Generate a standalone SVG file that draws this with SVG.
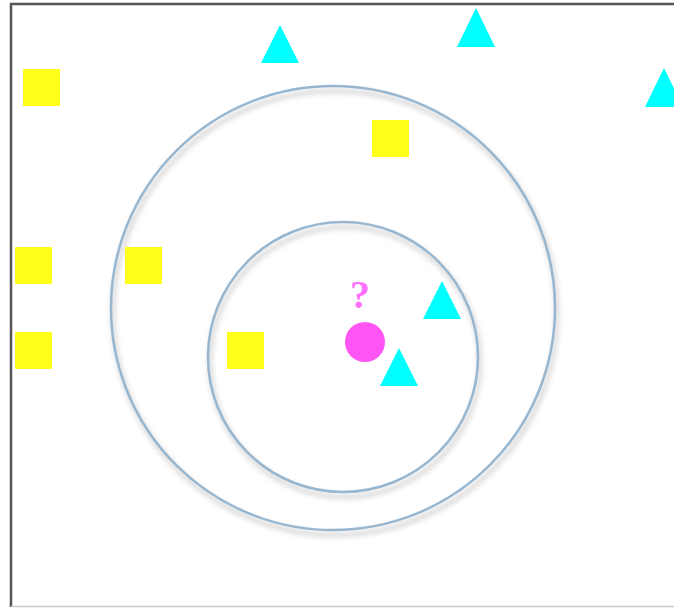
<svg xmlns="http://www.w3.org/2000/svg" width="674" height="608" viewBox="0 0 674 608">
<style>
.sq{fill:#ffff1a}
.tri{fill:#00ffff}
.ring{fill:none;stroke:#97b6d0;stroke-width:2.5}
.shadow{fill:none;stroke:#000;stroke-opacity:0.14;stroke-width:5}
</style>
<defs>
<filter id="blur" x="-10%" y="-10%" width="120%" height="120%"><feGaussianBlur stdDeviation="2.5"/></filter>
</defs>
<rect x="0" y="0" width="674" height="608" fill="#fff"/>
<path d="M11 607 V4 H680" fill="none" stroke="#555" stroke-width="2.5"/>
<line x1="11" y1="606.5" x2="674" y2="606.5" stroke="#ccc" stroke-width="1.5"/>
<g id="rings">
<circle class="shadow" cx="335" cy="313" r="222" filter="url(#blur)"/>
<circle class="ring" cx="333" cy="308" r="222"/>
<circle class="shadow" cx="345" cy="362" r="135" filter="url(#blur)"/>
<circle class="ring" cx="343" cy="357" r="135"/>
</g>
<g id="squares">
<rect class="sq" x="23" y="69" width="37" height="37"/>
<rect class="sq" x="372" y="120" width="37" height="37"/>
<rect class="sq" x="15" y="247" width="37" height="37"/>
<rect class="sq" x="125" y="247" width="37" height="37"/>
<rect class="sq" x="15" y="332" width="37" height="37"/>
<rect class="sq" x="227" y="332" width="37" height="37"/>
</g>
<g id="triangles">
<polygon class="tri" points="280,25 299,63 261,63"/>
<polygon class="tri" points="476,8 495,47 457,47"/>
<polygon class="tri" points="664,68 683,107 645,107"/>
<polygon class="tri" points="442,281 461,319 423,319"/>
<polygon class="tri" points="399,348 418,386 380,386"/>
</g>
<g id="query">
<circle cx="365" cy="342" r="20" fill="#ff55f5"/>
<text x="360" y="308" text-anchor="middle" font-family="Liberation Serif, serif" font-size="40" font-weight="bold" fill="#ff70ff">?</text>
</g>
</svg>
